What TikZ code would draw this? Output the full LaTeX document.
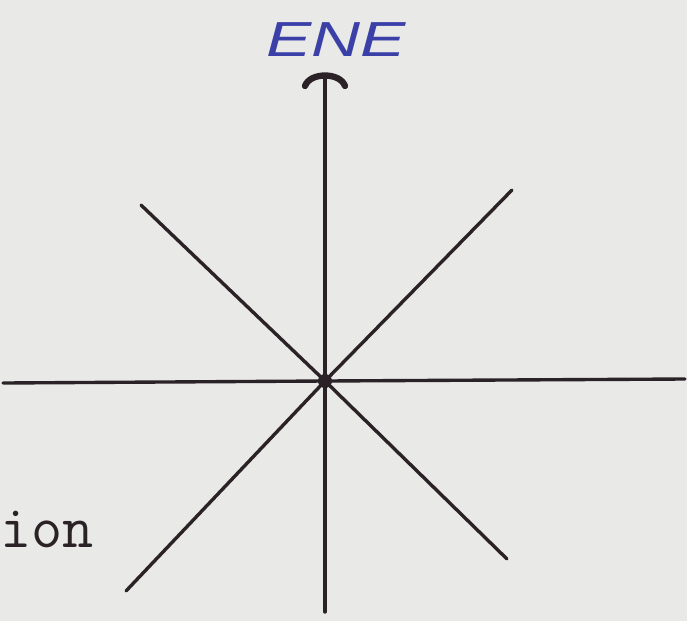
\documentclass[tikz,border=0pt]{standalone}
\usepackage{fontspec}
\newfontfamily\handfont{Liberation Sans}
\usepackage{graphicx}
\definecolor{paper}{HTML}{E9E9E7}
\definecolor{ink}{HTML}{2A2226}
\definecolor{pen}{HTML}{3B3FA8}

\begin{document}
\begin{tikzpicture}[
		x=0.025cm, y=-0.025cm,
		ray/.style={draw=ink, line width=2.4pt, line cap=round},
		tophat/.style={draw=ink, line width=4.5pt, line cap=round},
		hand/.style={text=pen, font=\handfont\itshape\fontsize{35}{35}\selectfont, inner sep=0pt},
		type/.style={text=ink, font=\ttfamily\fontsize{43}{43}\selectfont, inner sep=0pt}
		]
		
		\fill[paper] (0,0) rectangle (687,621);
		
		\coordinate (c) at (325,381);
		\coordinate (n) at (325,78);
		\coordinate (s) at (325,612);
		\coordinate (w) at (3,383);
		\coordinate (e) at (685,379);
		\coordinate (nw) at (141,205);
		\coordinate (ne) at (512,190);
		\coordinate (sw) at (126,591);
		\coordinate (se) at (507,559);
		
		\draw [ray] (c) -- (n);
		\draw [ray] (c) -- (s);
		\draw [ray] (c) -- (w);
		\draw [ray] (c) -- (e);
		\draw [ray] (c) -- (nw);
		\draw [ray] (c) -- (ne);
		\draw [ray] (c) -- (sw);
		\draw [ray] (c) -- (se);
		\draw [tophat] (305,86) .. controls (310,72) and (340,72) .. (345,86);
		\fill[ink] (c) circle (7);
		
		\node (ene) at (336,40) [hand] {\scalebox{1.38}[1]{ENE}};
		\node (ion) at (0,547) [type, anchor=base west] {ion};
	\end{tikzpicture}
\end{document}
